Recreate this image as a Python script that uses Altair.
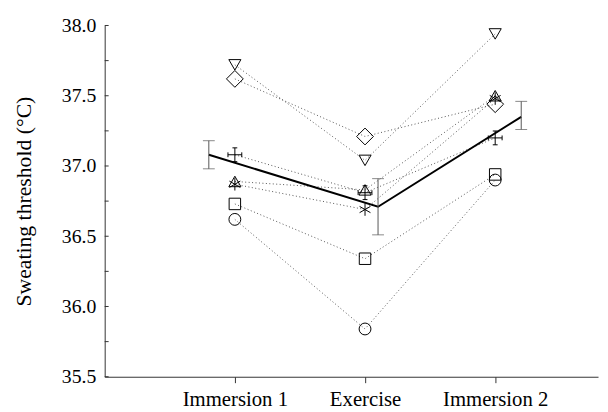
import altair as alt
import pandas as pd

# ---- data ----
stages = ["Immersion 1", "Exercise", "Immersion 2"]
stage_pos = [1, 2, 3]

subjects = ["S1", "S2", "S3", "S4", "S5", "S6", "S7"]
imm1 = [37.72, 37.62, 37.08, 36.89, 36.87, 36.73, 36.62]
exer = [37.04, 37.21, 36.81, 36.83, 36.69, 36.34, 35.84]
imm2 = [37.94, 37.44, 37.20, 37.50, 37.48, 36.94, 36.90]

mean_pos = [0.8, 2.1, 3.2]
mean_vals = [37.08, 36.71, 37.35]
err_low = [36.98, 36.51, 37.26]
err_high = [37.18, 36.91, 37.46]

y_labels = [35.5, 36.0, 36.5, 37.0, 37.5, 38.0]
y_ticks = [35.5, 35.75, 36.0, 36.25, 36.5, 36.75, 37.0, 37.25, 37.5, 37.75, 38.0]

# ---- marker styling ----
plus_path = ("M-1,0L1,0M0,-1L0,1M-1,-0.35L-1,0.35M1,-0.35L1,0.35"
             "M-0.35,-1L0.35,-1M-0.35,1L0.35,1")
star_path = "M0,-1L0,1M-0.87,-0.5L0.87,0.5M-0.87,0.5L0.87,-0.5"
shape_range = ["triangle-down", "diamond", plus_path, "triangle-up", star_path, "square", "circle"]
size_map = dict(zip(subjects, [150, 290, 196, 150, 160, 135, 144]))

rows = []
for i, s in enumerate(subjects):
    for p, v in zip(stage_pos, [imm1[i], exer[i], imm2[i]]):
        rows.append({"subject": s, "pos": p, "value": v, "sz": size_map[s]})
subj_df = pd.DataFrame(rows)

mean_df = pd.DataFrame({"pos": mean_pos, "value": mean_vals, "lo": err_low, "hi": err_high})
tick_df = pd.DataFrame({"value": y_ticks})

FONT = "Liberation Serif"

label_expr = " : ".join(
    f"datum.value == {p} ? '{n}'" for p, n in zip(stage_pos[:-1], stages[:-1])
) + f" : '{stages[-1]}'"

xscale = alt.Scale(domain=[0, 3.79], nice=False, zero=False)
yscale = alt.Scale(domain=[35.5, 38.0], nice=False, zero=False)

x_axis = alt.Axis(values=stage_pos, labelExpr=label_expr, title=None,
                  tickSize=6, labelPadding=6, grid=False, labelFontSize=21)
y_axis = alt.Axis(values=y_labels, format=".1f", ticks=False, labelPadding=9,
                  grid=False, title="Sweating threshold (\u00b0C)", titlePadding=26,
                  titleFontSize=22, labelFontSize=20)


def X():
    return alt.X("pos:Q", scale=xscale, axis=x_axis)


def Y(field="value"):
    return alt.Y(f"{field}:Q", scale=yscale, axis=y_axis)


dotted = alt.Chart(subj_df).mark_line(
    strokeDash=[1, 2.5], strokeWidth=1, color="#555"
).encode(x=X(), y=Y(), detail="subject:N")

points = alt.Chart(subj_df).mark_point(
    filled=False, color="black", strokeWidth=1, opacity=1
).encode(
    x=X(), y=Y(),
    shape=alt.Shape("subject:N", scale=alt.Scale(domain=subjects, range=shape_range), legend=None),
    size=alt.Size("sz:Q", scale=None),
)

mean_line = alt.Chart(mean_df).mark_line(color="black", strokeWidth=2).encode(x=X(), y=Y())

err_rule = alt.Chart(mean_df).mark_rule(color="#555", strokeWidth=1).encode(
    x=X(), y=Y("lo"), y2="hi:Q")
cap_lo = alt.Chart(mean_df).mark_tick(orient="horizontal", size=12, thickness=1, color="#555").encode(
    x=X(), y=Y("lo"))
cap_hi = alt.Chart(mean_df).mark_tick(orient="horizontal", size=12, thickness=1, color="#555").encode(
    x=X(), y=Y("hi"))

inner_ticks = alt.Chart(tick_df).mark_rule(color="#333", strokeWidth=1).encode(
    y=Y(), x=alt.value(0), x2=alt.value(4))

chart = alt.layer(
    inner_ticks, dotted, mean_line, err_rule, cap_lo, cap_hi, points
).properties(
    width=500, height=356,
    autosize=alt.AutoSizeParams(type="none"),
    padding={"left": 98, "top": 15, "right": 2, "bottom": 33},
).configure_view(stroke=None).configure_axis(
    labelFont=FONT, titleFont=FONT,
    labelColor="black", titleColor="black", titleFontWeight="normal",
    domainColor="#333", tickColor="#333", domainWidth=1,
)

chart.save("out.html", embed_options={"renderer": "svg", "actions": False})
